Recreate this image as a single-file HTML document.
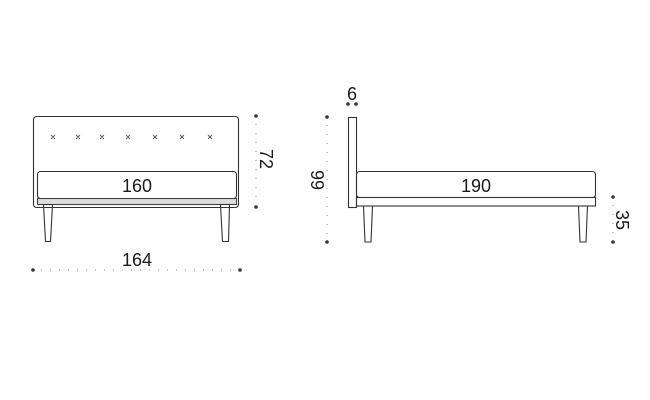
<!DOCTYPE html>
<html><head><meta charset="utf-8"><style>
html,body{margin:0;padding:0;background:#fff;width:650px;height:400px;overflow:hidden}
svg{display:block}
text{font-family:"Liberation Sans",sans-serif;fill:#1a1a1a}
</style></head><body>
<svg width="650" height="400" viewBox="0 0 650 400" xmlns="http://www.w3.org/2000/svg">
<g fill="none" stroke="#333" stroke-width="1.1">
<rect x="33.5" y="116.5" width="205" height="91" rx="3"/>
<rect x="37.5" y="171.5" width="199" height="27" rx="3"/>
<rect x="37.5" y="198.5" width="199" height="6" fill="#ddd" stroke="#444"/>
<path d="M43.5 204.5 L52.5 204.5 L50.5 241.5 L45.5 241.5 Z"/>
<path d="M220.5 204.5 L229.5 204.5 L228.5 241.5 L222.5 241.5 Z"/>
<rect x="348.5" y="117.5" width="8" height="90"/>
<rect x="356.5" y="171.5" width="239" height="26" rx="3"/>
<rect x="356.5" y="197.5" width="239" height="8.5"/>
<path d="M363.5 206 L372.5 206 L371 242 L365 242 Z"/>
<path d="M578.5 206 L587.5 206 L586 242 L580 242 Z"/>
</g>
<g stroke="#555" stroke-width="0.9">
<path d="M51 135l4 4M55 135l-4 4M76 135l4 4M80 135l-4 4M100 135l4 4M104 135l-4 4M126 135l4 4M130 135l-4 4M153 135l4 4M157 135l-4 4M180 135l4 4M184 135l-4 4M208 135l4 4M212 135l-4 4"/>
</g>
<g fill="#333">
<circle cx="256" cy="116" r="1.8"/><circle cx="256" cy="207" r="1.8"/>
<circle cx="33" cy="270" r="1.8"/><circle cx="240" cy="270" r="1.8"/>
<circle cx="327" cy="117" r="1.8"/><circle cx="327" cy="242" r="1.8"/>
<circle cx="613" cy="197" r="1.8"/><circle cx="613" cy="242" r="1.8"/>
<circle cx="348" cy="104" r="1.8"/><circle cx="356" cy="104" r="1.8"/>
</g>
<g stroke="#888" stroke-width="1" stroke-dasharray="1 8" fill="none">
<line x1="256" y1="124" x2="256" y2="202"/>
<line x1="41" y1="270" x2="236" y2="270"/>
<line x1="327" y1="125" x2="327" y2="238"/>
<line x1="613" y1="205" x2="613" y2="238"/>
</g>
<text x="137" y="192" font-size="18" text-anchor="middle">160</text>
<text x="476" y="192" font-size="18" text-anchor="middle">190</text>
<text x="137" y="266" font-size="18" text-anchor="middle">164</text>
<text x="352" y="100" font-size="18" text-anchor="middle">6</text>
<text transform="translate(260,159) rotate(90)" font-size="18" text-anchor="middle">72</text>
<text transform="translate(311,180) rotate(90)" font-size="18" text-anchor="middle">99</text>
<text transform="translate(616,220) rotate(90)" font-size="18" text-anchor="middle">35</text>
</svg>
</body></html>
